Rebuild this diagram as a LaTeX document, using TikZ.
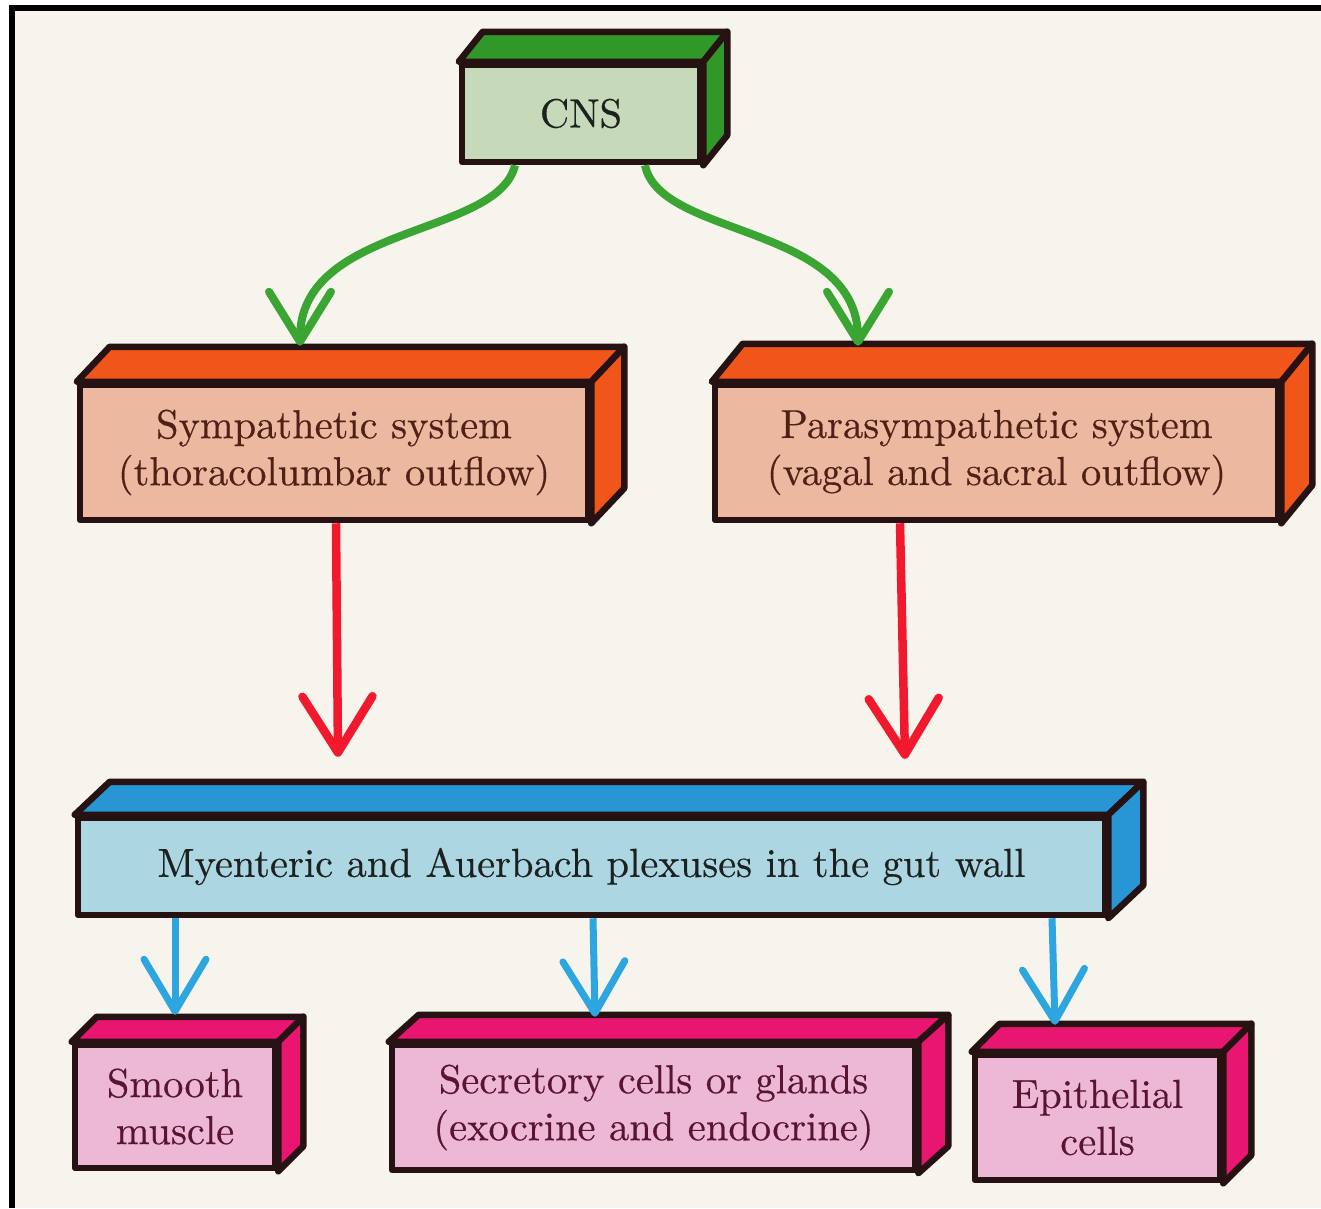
\documentclass[tikz,border=0pt]{standalone}
\usepackage{fontspec}
\setmainfont{lmroman10-regular.otf}[FakeBold=0.4]
\usetikzlibrary{arrows.meta,calc}
\definecolor{paper}{RGB}{246,244,237}
\definecolor{edgec}{RGB}{38,18,18}
\definecolor{cnsfront}{RGB}{198,218,186}
\definecolor{cnsside}{RGB}{48,152,40}
\definecolor{symfront}{RGB}{236,184,160}
\definecolor{symside}{RGB}{240,85,25}
\definecolor{myefront}{RGB}{172,214,226}
\definecolor{myeside}{RGB}{40,150,212}
\definecolor{pinkfront}{RGB}{236,184,214}
\definecolor{pinkside}{RGB}{232,22,112}
\definecolor{garrowc}{RGB}{58,165,50}
\definecolor{rarrowc}{RGB}{240,25,45}
\definecolor{barrowc}{RGB}{45,165,222}
\definecolor{symtext}{RGB}{78,32,22}
\definecolor{pinktext}{RGB}{88,20,48}
\definecolor{darktext}{RGB}{28,32,30}
\newcommand\boxfaces[4]{%
  \filldraw[fill=#4, faceedge] (#1.north west) -- ++(#2,#3) -- ([shift={(#2,#3)}]#1.north east) -- (#1.north east) -- cycle;
  \filldraw[fill=#4, faceedge] (#1.north east) -- ++(#2,#3) -- ([shift={(#2,#3)}]#1.south east) -- (#1.south east) -- cycle;
}
\tikzset{
  faceedge/.style={draw=edgec, line width=6.5pt, line join=round},
  frontbox/.style={draw=edgec, line width=6.5pt, line join=round, inner sep=0pt, align=center,
    font=\fontsize{40.5}{47}\selectfont},
  garrow/.style={draw=garrowc, line width=8pt, -{Straight Barb[length=50pt,width=62pt,round]}},
  rarrow/.style={draw=rarrowc, line width=8.5pt, -{Straight Barb[length=56pt,width=70pt,round]}},
  barrow/.style={draw=barrowc, line width=7pt, -{Straight Barb[length=52pt,width=62pt,round]}},
}
\begin{document}
\begin{tikzpicture}[x=1pt,y=-1pt]
\useasboundingbox (0,0) rectangle (1321,1208);
\fill[white] (0,0) rectangle (1321,1208);
\fill[paper] (12,8) rectangle (1321,1208);
\fill[black] (9,5) rectangle (1321,11);
\fill[black] (9,5) rectangle (15,1208);

% front faces
\node[frontbox, fill=cnsfront, text=darktext, minimum width=238pt, minimum height=97pt] (cns) at (581,113.5) {CNS};
\node[frontbox, fill=symfront, text=symtext, minimum width=508pt, minimum height=135pt] (sym) at (334,452.5) {Sympathetic system\\(thoracolumbar outflow)};
\node[frontbox, fill=symfront, text=symtext, minimum width=563pt, minimum height=135pt] (para) at (996.5,452.5) {Parasympathetic system\\(vagal and sacral outflow)};
\node[frontbox, fill=myefront, text=darktext, minimum width=1027pt, minimum height=97pt] (mye) at (591.5,866.5) {Myenteric and Auerbach plexuses in the gut wall};
\node[frontbox, fill=pinkfront, text=pinktext, minimum width=200pt, minimum height=123pt] (smooth) at (175,1106.5) {Smooth\\muscle};
\node[frontbox, fill=pinkfront, text=pinktext, minimum width=523pt, minimum height=125pt] (secr) at (653.5,1107.5) {Secretory cells or glands\\(exocrine and endocrine)};
\node[frontbox, fill=pinkfront, text=pinktext, minimum width=245pt, minimum height=125pt] (epi) at (1097.5,1117.5) {Epithelial\\cells};

% top and side faces
\boxfaces{cns}{24}{-30}{cnsside}
\boxfaces{sym}{33}{-35}{symside}
\boxfaces{para}{31}{-38}{symside}
\boxfaces{mye}{35}{-33}{myeside}
\boxfaces{smooth}{25}{-25}{pinkside}
\boxfaces{secr}{30}{-27}{pinkside}
\boxfaces{epi}{28}{-28}{pinkside}

% connectors
\draw[garrow] ([xshift=-66pt]cns.south) .. controls +(-17,72) and +(0,-122) .. ([xshift=-34pt,yshift=36pt]sym.north);
\draw[garrow] ([xshift=64pt]cns.south) .. controls +(15,73) and +(0,-122) .. ([xshift=-138.5pt,yshift=36pt]para.north);
\draw[rarrow] ([xshift=2pt]sym.south) -- ([xshift=-253.5pt,yshift=58pt]mye.north);
\draw[rarrow] ([xshift=-96.5pt]para.south) -- ([xshift=313.5pt,yshift=56pt]mye.north);
\draw[barrow] ([xshift=-416.5pt]mye.south) -- ([yshift=27pt]smooth.north);
\draw[barrow] ([xshift=1.5pt]mye.south) -- ([xshift=-58.5pt,yshift=25pt]secr.north);
\draw[barrow] ([xshift=460.5pt]mye.south) -- ([xshift=-42.5pt,yshift=27pt]epi.north);
\end{tikzpicture}
\end{document}
